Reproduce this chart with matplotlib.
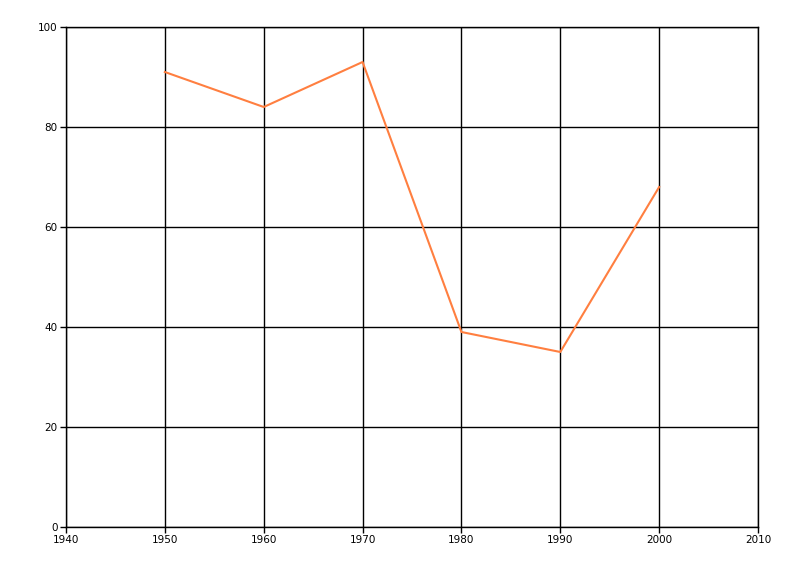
import matplotlib
matplotlib.use("Agg")
import matplotlib.pyplot as plt

years = [1950, 1960, 1970, 1980, 1990, 2000]
values = [91, 84, 93, 39, 35, 68]
x_ticks = [1940, 1950, 1960, 1970, 1980, 1990, 2000, 2010]
y_ticks = [0, 20, 40, 60, 80, 100]

fig = plt.figure(figsize=(8, 5.76), dpi=100)
ax = fig.add_axes([66/800, 1 - 527/576, (758-66)/800, (527-27)/576])
ax.plot(years, values, color='#FF7F40', linewidth=1.5, zorder=3)
ax.set_xlim(1940, 2010)
ax.set_ylim(0, 100)
ax.set_xticks(x_ticks)
ax.set_yticks(y_ticks)
ax.grid(True, color='black', linewidth=1)
for s in ax.spines.values():
    s.set_color('black')
    s.set_linewidth(1)
ax.tick_params(axis='both', direction='out', length=4, width=1, color='black',
               labelsize=7.5, labelcolor='black', pad=2)
fig.savefig('out.png', dpi=100)
